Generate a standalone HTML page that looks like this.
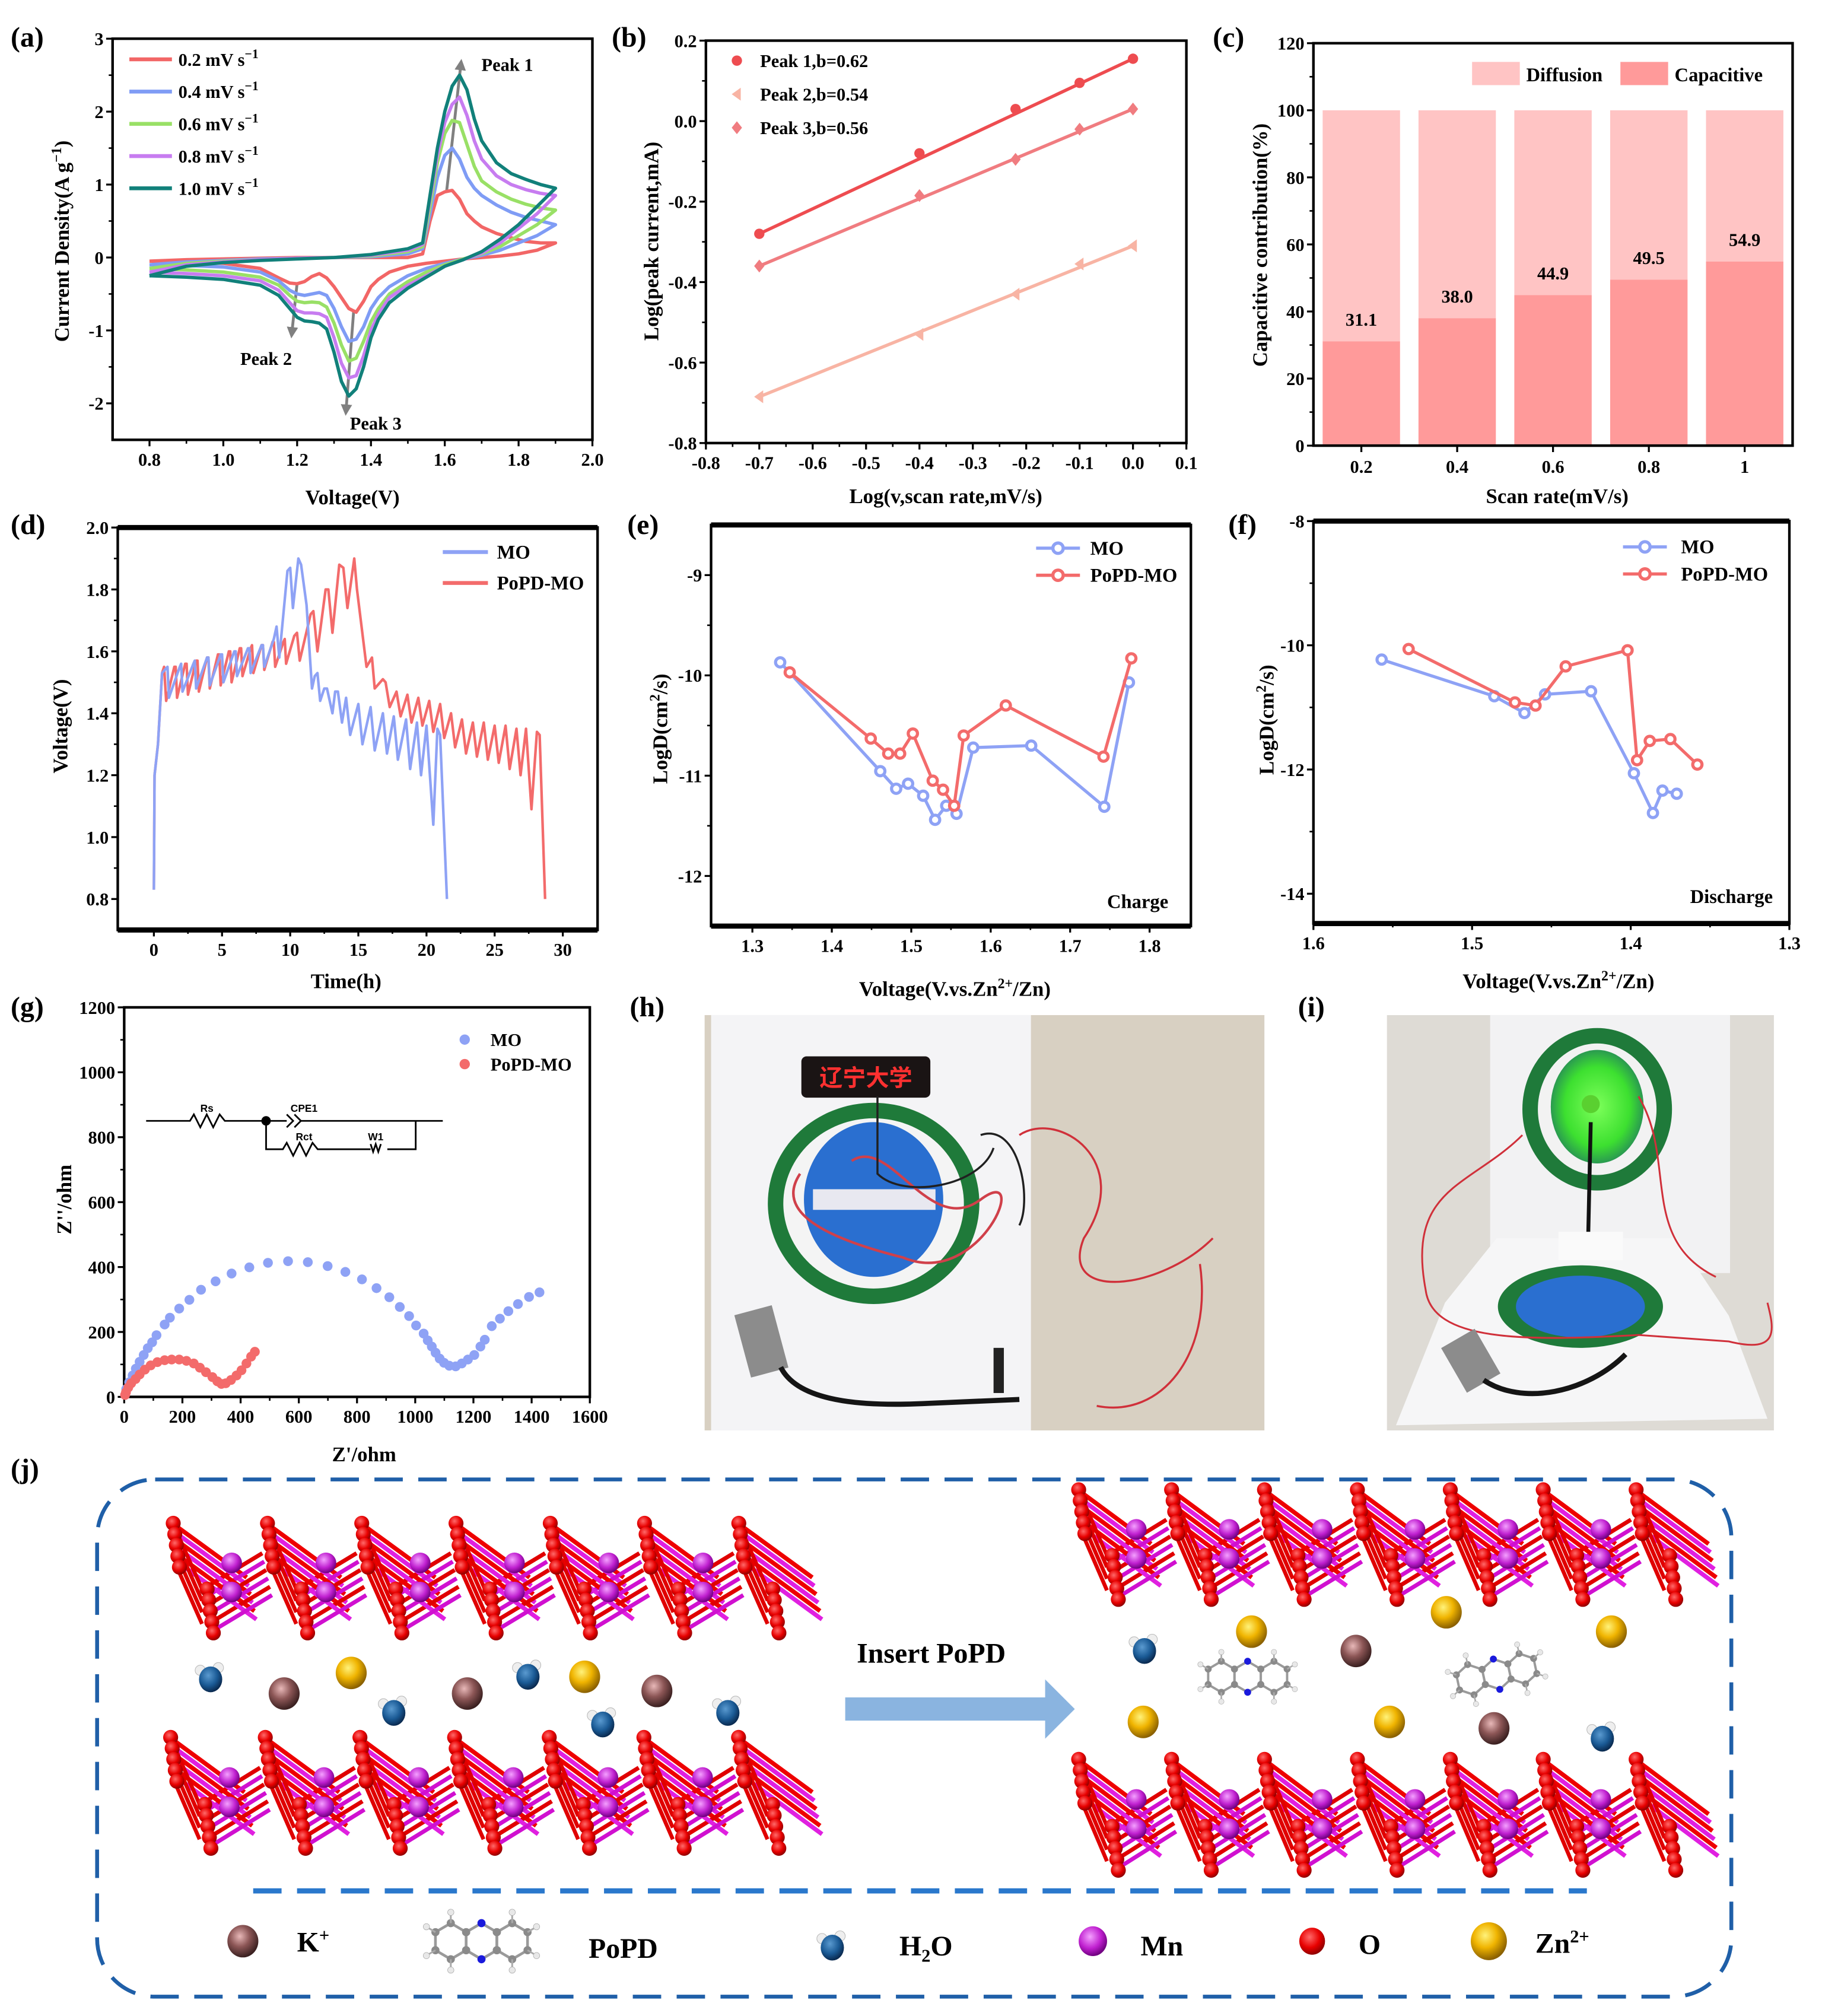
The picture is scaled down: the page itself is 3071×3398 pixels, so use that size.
<!DOCTYPE html>
<html><head><meta charset="utf-8">
<style>
html,body{margin:0;padding:0;background:#fff;}
svg{display:block;}
text{font-family:"Liberation Serif","Noto Serif CJK SC",serif;font-weight:bold;fill:#000;}
</style></head>
<body>
<svg id="fig" xmlns="http://www.w3.org/2000/svg" width="3071" height="3398" viewBox="0 0 1412 1563">
<defs>
<radialGradient id="gK" cx="40%" cy="35%" r="65%"><stop offset="0" stop-color="#e8b8b8"/><stop offset="0.5" stop-color="#8c5656"/><stop offset="1" stop-color="#3a2020"/></radialGradient>
<radialGradient id="gZn" cx="40%" cy="35%" r="65%"><stop offset="0" stop-color="#fff27a"/><stop offset="0.5" stop-color="#f0b400"/><stop offset="1" stop-color="#8a6000"/></radialGradient>
<radialGradient id="gO" cx="40%" cy="35%" r="65%"><stop offset="0" stop-color="#ff6a6a"/><stop offset="0.6" stop-color="#e80000"/><stop offset="1" stop-color="#900000"/></radialGradient>
<radialGradient id="gMn" cx="40%" cy="35%" r="65%"><stop offset="0" stop-color="#f4a0ff"/><stop offset="0.6" stop-color="#c020d0"/><stop offset="1" stop-color="#700080"/></radialGradient>
<radialGradient id="gW" cx="40%" cy="35%" r="65%"><stop offset="0" stop-color="#5a9ad0"/><stop offset="0.6" stop-color="#1a5a95"/><stop offset="1" stop-color="#0a2a50"/></radialGradient>
<radialGradient id="gGlow" cx="50%" cy="50%" r="50%"><stop offset="0" stop-color="#7dff5a"/><stop offset="0.7" stop-color="#3de030"/><stop offset="1" stop-color="#2a9a50"/></radialGradient>
<marker id="arr" viewBox="0 0 10 10" refX="5" refY="5" markerWidth="4" markerHeight="5" orient="auto"><path d="M0,0 L10,5 L0,10 z" fill="#808080"/></marker>
</defs>

<g font-size="22">
<text x="8" y="36">(a)</text>
<text x="474" y="36">(b)</text>
<text x="940" y="36">(c)</text>
<text x="8" y="414">(d)</text>
<text x="486" y="414">(e)</text>
<text x="952" y="414">(f)</text>
<text x="8" y="788">(g)</text>
<text x="488" y="788">(h)</text>
<text x="1006" y="788">(i)</text>
<text x="8" y="1146">(j)</text>
</g>

<g font-size="16" text-anchor="middle">
<text x="273" y="391">Voltage(V)</text>
<text transform="translate(53,187) rotate(-90)">Current Density(A g<tspan dy="-6" font-size="11">−1</tspan><tspan dy="6">)</tspan></text>
<text x="733" y="390">Log(v,scan rate,mV/s)</text>
<text transform="translate(510,187) rotate(-90)">Log(peak current,mA)</text>
<text x="1207" y="390">Scan rate(mV/s)</text>
<text transform="translate(982,190) rotate(-90)">Capacitive contribution(%)</text>
<text x="268" y="766">Time(h)</text>
<text transform="translate(52,563) rotate(-90)">Voltage(V)</text>
<text x="740" y="772">Voltage(V.vs.Zn<tspan dy="-6" font-size="11">2+</tspan><tspan dy="6">/Zn)</tspan></text>
<text transform="translate(517,565) rotate(-90)">LogD(cm<tspan dy="-6" font-size="11">2</tspan><tspan dy="6">/s)</tspan></text>
<text x="1208" y="766">Voltage(V.vs.Zn<tspan dy="-6" font-size="11">2+</tspan><tspan dy="6">/Zn)</tspan></text>
<text transform="translate(987,558) rotate(-90)">LogD(cm<tspan dy="-6" font-size="11">2</tspan><tspan dy="6">/s)</tspan></text>
<text x="282" y="1133">Z'/ohm</text>
<text transform="translate(55,930) rotate(-90)">Z''/ohm</text>
</g>

<g font-size="14">
<g>
<line x1="100" y1="46" x2="133" y2="46" stroke="#f26666" stroke-width="3"/><text x="138" y="51">0.2 mV s<tspan dy="-6" font-size="10">−1</tspan></text>
<line x1="100" y1="71" x2="133" y2="71" stroke="#7f9cf5" stroke-width="3"/><text x="138" y="76">0.4 mV s<tspan dy="-6" font-size="10">−1</tspan></text>
<line x1="100" y1="96" x2="133" y2="96" stroke="#99e066" stroke-width="3"/><text x="138" y="101">0.6 mV s<tspan dy="-6" font-size="10">−1</tspan></text>
<line x1="100" y1="121" x2="133" y2="121" stroke="#c77cf0" stroke-width="3"/><text x="138" y="126">0.8 mV s<tspan dy="-6" font-size="10">−1</tspan></text>
<line x1="100" y1="146" x2="133" y2="146" stroke="#11807a" stroke-width="3"/><text x="138" y="151">1.0 mV s<tspan dy="-6" font-size="10">−1</tspan></text>
</g>
<text x="373" y="55">Peak 1</text>
<text x="186" y="283">Peak 2</text>
<text x="271" y="333">Peak 3</text>
</g>
<g stroke="#808080" stroke-width="2.2" fill="none">
<line x1="346" y1="148" x2="357" y2="50" marker-end="url(#arr)"/>
<line x1="230" y1="220" x2="226" y2="258" marker-end="url(#arr)"/>
<line x1="274" y1="240" x2="268" y2="318" marker-end="url(#arr)"/>
</g>

<g font-size="15">
<rect x="1141" y="48" width="37" height="18" fill="#ffc4c4"/><text x="1183" y="63">Diffusion</text>
<rect x="1256" y="48" width="37" height="18" fill="#ff9a9a"/><text x="1298" y="63">Capacitive</text>
</g>

<g font-size="15">
<g>
<line x1="343" y1="428" x2="378" y2="428" stroke="#8ea2f5" stroke-width="3"/><text x="385" y="433">MO</text>
<line x1="343" y1="452" x2="378" y2="452" stroke="#f36b6b" stroke-width="3"/><text x="385" y="457">PoPD-MO</text>
</g>
<g>
<line x1="803" y1="425" x2="837" y2="425" stroke="#8ea2f5" stroke-width="2.5"/><circle cx="820" cy="425" r="4" fill="#fff" stroke="#8ea2f5" stroke-width="2.5"/><text x="845" y="430">MO</text>
<line x1="803" y1="446" x2="837" y2="446" stroke="#f36b6b" stroke-width="2.5"/><circle cx="820" cy="446" r="4" fill="#fff" stroke="#f36b6b" stroke-width="2.5"/><text x="845" y="451">PoPD-MO</text>
</g>
<g>
<line x1="1258" y1="424" x2="1292" y2="424" stroke="#8ea2f5" stroke-width="2.5"/><circle cx="1275" cy="424" r="4" fill="#fff" stroke="#8ea2f5" stroke-width="2.5"/><text x="1303" y="429">MO</text>
<line x1="1258" y1="445" x2="1292" y2="445" stroke="#f36b6b" stroke-width="2.5"/><circle cx="1275" cy="445" r="4" fill="#fff" stroke="#f36b6b" stroke-width="2.5"/><text x="1303" y="450">PoPD-MO</text>
</g>
<text x="858" y="704">Charge</text>
<text x="1310" y="700">Discharge</text>
<g font-size="14">
<circle cx="360" cy="806" r="4" fill="#8ea2f5"/><text x="380" y="811">MO</text>
<circle cx="360" cy="825" r="4" fill="#f36b6b"/><text x="380" y="830">PoPD-MO</text>
</g>
</g>

<g stroke="#000" stroke-width="1.3" fill="none">
<path d="M113,869 H147 l3,-5 l5,10 l5,-10 l5,10 l5,-10 l4,5 H222"/>
<path d="M222,864 l5,5 l-5,5 M228,864 l5,5 l-5,5"/>
<path d="M233,869 H343"/>
<path d="M206,869 V891 H219 l3,-5 l5,10 l5,-10 l5,10 l5,-10 l4,5 H287 M322,869 V891 H300"/>
<path d="M287,887 l2,6 l2,-6 l2,6 l2,-6" />
<circle cx="206" cy="869" r="3" fill="#000"/>
</g>
<g font-size="8">
<text x="155" y="862" style="font-family:'Liberation Sans',sans-serif">Rs</text>
<text x="225" y="862" style="font-family:'Liberation Sans',sans-serif">CPE1</text>
<text x="229" y="884" style="font-family:'Liberation Sans',sans-serif">Rct</text>
<text x="285" y="884" style="font-family:'Liberation Sans',sans-serif">W1</text>
</g>

<g>
<rect x="546" y="787" width="434" height="322" fill="#d8d0c2"/>
<rect x="551" y="787" width="248" height="322" fill="#f4f4f6"/>
<rect x="621" y="819" width="100" height="32" rx="4" fill="#1a1414"/>
<text x="671" y="842" text-anchor="middle" font-size="18" style="fill:#ff3030;font-family:'Liberation Sans','Noto Sans CJK SC',sans-serif">辽宁大学</text>
<ellipse cx="677" cy="933" rx="82" ry="78" fill="#1f7a3a"/>
<ellipse cx="677" cy="933" rx="70" ry="66" fill="#f4f4f4"/>
<ellipse cx="677" cy="930" rx="54" ry="60" fill="#2a6fd0"/>
<rect x="630" y="922" width="95" height="16" fill="#e8e8f0"/>
<path d="M660,900 C690,880 720,960 760,930 C800,900 760,1000 700,975 C640,960 600,940 620,910" fill="none" stroke="#d0404a" stroke-width="2"/>
<path d="M790,880 C820,860 880,900 840,960 C820,1010 900,1000 940,960 M850,1090 C900,1100 940,1050 930,980" fill="none" stroke="#d0303a" stroke-width="1.6"/>
<path d="M680,850 V910 C700,930 760,920 770,890 M760,880 C790,870 800,930 790,950" fill="none" stroke="#202020" stroke-width="1.6"/>
<rect x="575" y="1015" width="30" height="50" fill="#8c8c8c" transform="rotate(-15 590 1040)"/>
<path d="M605,1060 C620,1090 680,1090 720,1088 L790,1085" fill="none" stroke="#151515" stroke-width="4"/>
<rect x="770" y="1045" width="8" height="35" fill="#222"/>
</g>

<g>
<rect x="1075" y="787" width="300" height="322" fill="#dedbd5"/>
<rect x="1155" y="787" width="186" height="200" fill="#f2f2f3"/>
<path d="M1160,960 L1300,960 L1340,1020 L1370,1100 L1082,1105 L1120,1010 z" fill="#f6f6f7"/>
<ellipse cx="1238" cy="860" rx="58" ry="63" fill="#1f7a3a"/>
<ellipse cx="1238" cy="860" rx="46" ry="51" fill="#f2f2f2"/>
<ellipse cx="1238" cy="858" rx="36" ry="44" fill="url(#gGlow)"/>
<circle cx="1233" cy="856" r="7" fill="#5ad030"/>
<line x1="1233" y1="870" x2="1231" y2="960" stroke="#111" stroke-width="3"/>
<rect x="1208" y="955" width="50" height="22" fill="#fafafa"/>
<ellipse cx="1225" cy="1013" rx="64" ry="32" fill="#1f7a3a"/>
<ellipse cx="1225" cy="1013" rx="50" ry="24" fill="#2a6fd0"/>
<path d="M1180,880 C1140,920 1090,920 1105,1000 C1110,1040 1180,1040 1270,1035 L1340,1040 C1380,1050 1375,1030 1370,1010 M1270,850 C1300,900 1270,960 1330,990" fill="none" stroke="#d0303a" stroke-width="1.4"/>
<rect x="1125" y="1035" width="30" height="40" fill="#8c8c8c" transform="rotate(-30 1140 1055)"/>
<path d="M1150,1070 C1180,1090 1230,1080 1260,1050" fill="none" stroke="#151515" stroke-width="4"/>
</g>

<g>
<rect x="75" y="1147" width="1267" height="401" rx="45" fill="none" stroke="#1f5fa8" stroke-width="3" stroke-dasharray="22 12"/>
<line x1="196" y1="1466" x2="1230" y2="1466" stroke="#2a78cc" stroke-width="4" stroke-dasharray="22 12"/>
<text x="664" y="1289" font-size="22">Insert PoPD</text>
<path d="M655,1316 H810 V1302 L833,1325 L810,1348 V1334 H655 z" fill="#8ab4e0"/>
<g font-size="22">
<text x="230" y="1513">K<tspan dy="-8" font-size="14">+</tspan></text>
<text x="456" y="1518">PoPD</text>
<text x="697" y="1516">H<tspan dy="5" font-size="14">2</tspan><tspan dy="-5">O</tspan></text>
<text x="884" y="1516">Mn</text>
<text x="1053" y="1515">O</text>
<text x="1190" y="1514">Zn<tspan dy="-8" font-size="14">2+</tspan></text>
</g>
</g>
<g id="marks"></g>
</svg>

<script>
const NS='http://www.w3.org/2000/svg';
const root=document.getElementById('marks');
function mk(tag,attrs,parent){const e=document.createElementNS(NS,tag);for(const k in attrs)e.setAttribute(k,attrs[k]);(parent||root).appendChild(e);return e;}

const cvFwdV=[0.8,0.9,1.0,1.1,1.2,1.3,1.4,1.5,1.54,1.56,1.58,1.6,1.62,1.64,1.66,1.68,1.7,1.74,1.78,1.82,1.86,1.9];
const cvBwdV=[1.9,1.85,1.8,1.75,1.7,1.65,1.6,1.55,1.5,1.45,1.42,1.4,1.38,1.36,1.34,1.32,1.3,1.28,1.26,1.24,1.22,1.2,1.18,1.15,1.1,1.0,0.9,0.8];
const cvRates=['0.2','0.4','0.6','0.8','1.0'];
const cvFwd02=[-0.05,-0.03,-0.02,-0.01,0,0,0,0,0.05,0.5,0.85,0.9,0.92,0.8,0.6,0.5,0.42,0.33,0.27,0.22,0.2,0.2];
const cvFwd04=[-0.1,-0.06,-0.04,-0.02,-0.01,0,0.01,0.05,0.12,0.6,1.1,1.4,1.5,1.35,1.1,0.95,0.85,0.72,0.62,0.55,0.5,0.45];
const cvFwd06=[-0.15,-0.08,-0.05,-0.03,-0.01,0,0.02,0.08,0.15,0.7,1.3,1.7,1.88,1.85,1.55,1.25,1.05,0.9,0.8,0.73,0.68,0.65];
const cvFwd08=[-0.2,-0.1,-0.06,-0.03,-0.01,0,0.03,0.1,0.18,0.8,1.4,1.85,2.1,2.2,1.95,1.6,1.35,1.12,1.0,0.93,0.88,0.85];
const cvFwd10=[-0.25,-0.12,-0.07,-0.04,-0.02,0,0.04,0.12,0.2,0.85,1.5,2.0,2.35,2.5,2.3,1.9,1.6,1.3,1.15,1.07,1.0,0.95];
const cvBwd02=[0.2,0.1,0.05,0.02,0,-0.02,-0.05,-0.08,-0.12,-0.2,-0.3,-0.4,-0.6,-0.75,-0.7,-0.55,-0.4,-0.28,-0.22,-0.26,-0.33,-0.36,-0.35,-0.28,-0.15,-0.08,-0.06,-0.05];
const cvBwd04=[0.45,0.3,0.2,0.1,0.03,-0.02,-0.08,-0.15,-0.25,-0.4,-0.55,-0.7,-0.95,-1.12,-1.15,-0.95,-0.7,-0.52,-0.48,-0.5,-0.52,-0.5,-0.45,-0.32,-0.2,-0.13,-0.11,-0.1];
const cvBwd06=[0.65,0.45,0.3,0.15,0.05,-0.02,-0.1,-0.2,-0.33,-0.5,-0.7,-0.88,-1.15,-1.38,-1.42,-1.2,-0.9,-0.68,-0.62,-0.61,-0.62,-0.6,-0.52,-0.38,-0.27,-0.2,-0.17,-0.15];
const cvBwd08=[0.85,0.6,0.4,0.2,0.06,-0.03,-0.12,-0.25,-0.38,-0.55,-0.78,-1.0,-1.35,-1.62,-1.65,-1.45,-1.1,-0.82,-0.77,-0.76,-0.76,-0.73,-0.62,-0.45,-0.32,-0.25,-0.22,-0.2];
const cvBwd10=[0.95,0.7,0.45,0.25,0.08,-0.03,-0.12,-0.27,-0.42,-0.62,-0.85,-1.1,-1.5,-1.8,-1.9,-1.7,-1.3,-0.98,-0.9,-0.88,-0.87,-0.82,-0.7,-0.52,-0.38,-0.3,-0.27,-0.25];
const logV=[-0.7,-0.4,-0.22,-0.1,0.0];
const peak1=[-0.28,-0.08,0.03,0.095,0.155];
const peak2=[-0.685,-0.53,-0.43,-0.355,-0.31];
const peak3=[-0.36,-0.185,-0.095,-0.02,0.03];
const scanRates=['0.2','0.4','0.6','0.8','1'];
const capacitive=[31.1,38.0,44.9,49.5,54.9];
const moGcd=[[0,0.83],[0.05,1.2],[0.3,1.3],[0.6,1.53],[0.8,1.54],[1.0,1.55],[1.1,1.45],[1.9,1.55],[2.0,1.56],[2.1,1.47],[2.9,1.56],[3.0,1.57],[3.1,1.48],[3.9,1.58],[4.0,1.58],[4.1,1.49],[4.9,1.59],[5.0,1.59],[5.1,1.50],[5.9,1.60],[6.0,1.60],[6.1,1.52],[6.9,1.61],[7.0,1.61],[7.1,1.53],[7.9,1.62],[8.0,1.62],[8.1,1.55],[8.8,1.64],[9.0,1.68],[9.2,1.58],[9.8,1.86],[10.0,1.87],[10.2,1.74],[10.6,1.90],[10.8,1.88],[11.2,1.75],[11.6,1.48],[11.8,1.52],[12.0,1.53],[12.2,1.44],[12.5,1.48],[12.7,1.48],[13.1,1.40],[13.3,1.47],[13.5,1.47],[13.8,1.37],[14.1,1.45],[14.4,1.33],[15.0,1.43],[15.3,1.30],[15.9,1.42],[16.2,1.28],[16.8,1.40],[17.1,1.27],[17.6,1.39],[17.9,1.25],[18.5,1.38],[18.8,1.22],[19.3,1.37],[19.6,1.20],[20.0,1.36],[20.5,1.04],[20.8,1.35],[21.0,1.33],[21.5,0.80]];
const popdGcd=[[0,0.83],[0.05,1.2],[0.3,1.3],[0.6,1.53],[0.75,1.55],[0.9,1.44],[1.5,1.55],[1.6,1.55],[1.7,1.45],[2.3,1.56],[2.4,1.56],[2.5,1.46],[3.1,1.57],[3.2,1.57],[3.3,1.47],[3.9,1.58],[4.0,1.58],[4.1,1.48],[4.7,1.59],[4.8,1.59],[4.9,1.49],[5.5,1.60],[5.6,1.60],[5.7,1.50],[6.3,1.61],[6.4,1.61],[6.5,1.52],[7.1,1.61],[7.2,1.62],[7.3,1.53],[7.9,1.62],[8.0,1.62],[8.1,1.54],[8.7,1.63],[8.8,1.63],[8.9,1.55],[9.5,1.63],[9.6,1.64],[9.7,1.56],[10.3,1.65],[10.5,1.66],[10.7,1.57],[11.5,1.72],[11.7,1.73],[12.0,1.60],[12.6,1.80],[12.8,1.80],[13.1,1.66],[13.6,1.88],[13.9,1.87],[14.2,1.74],[14.7,1.90],[14.9,1.80],[15.6,1.55],[16.0,1.58],[16.2,1.48],[16.8,1.51],[17.0,1.50],[17.3,1.42],[17.8,1.47],[18.1,1.39],[18.6,1.46],[18.9,1.37],[19.4,1.45],[19.7,1.36],[20.2,1.44],[20.5,1.34],[21.0,1.43],[21.3,1.32],[21.8,1.40],[22.1,1.29],[22.6,1.38],[22.9,1.27],[23.4,1.37],[23.7,1.26],[24.2,1.37],[24.5,1.25],[25.0,1.36],[25.3,1.24],[25.8,1.36],[26.1,1.22],[26.6,1.35],[26.9,1.20],[27.3,1.35],[27.7,1.09],[28.1,1.34],[28.3,1.33],[28.7,0.80]];
const moCharge=[[1.335,-9.87],[1.461,-10.955],[1.481,-11.13],[1.496,-11.08],[1.515,-11.2],[1.53,-11.44],[1.544,-11.3],[1.557,-11.38],[1.578,-10.72],[1.651,-10.70],[1.743,-11.31],[1.774,-10.07]];
const popdCharge=[[1.347,-9.97],[1.449,-10.63],[1.471,-10.78],[1.486,-10.78],[1.502,-10.58],[1.527,-11.05],[1.54,-11.14],[1.554,-11.3],[1.566,-10.6],[1.619,-10.3],[1.742,-10.81],[1.777,-9.83]];
const moDischarge=[[1.557,-10.23],[1.486,-10.82],[1.467,-11.09],[1.454,-10.79],[1.425,-10.74],[1.398,-12.06],[1.386,-12.70],[1.380,-12.34],[1.371,-12.39]];
const popdDischarge=[[1.540,-10.06],[1.473,-10.92],[1.460,-10.97],[1.441,-10.34],[1.402,-10.08],[1.396,-11.85],[1.388,-11.54],[1.375,-11.51],[1.358,-11.92]];
const moEis=[[7,24],[17,45],[29,66],[40,87],[53,108],[67,129],[81,150],[96,168],[111,190],[139,223],[157,244],[189,272],[224,299],[264,330],[314,356],[369,380],[430,399],[494,413],[563,418],[631,415],[699,403],[760,385],[817,362],[867,335],[911,307],[947,277],[979,249],[1003,220],[1029,195],[1043,174],[1057,155],[1070,136],[1084,118],[1099,105],[1117,96],[1139,94],[1160,103],[1181,115],[1203,129],[1224,155],[1239,176],[1263,218],[1291,241],[1320,264],[1353,286],[1391,308],[1427,322]];
const popdEis=[[3,6],[6,14],[14,29],[24,42],[39,55],[53,69],[71,84],[91,97],[114,107],[139,113],[163,115],[189,115],[214,111],[239,103],[260,90],[281,76],[303,61],[320,48],[334,40],[349,42],[367,52],[386,66],[403,82],[420,103],[436,124],[449,139]];
const aXTicks=[0.8,1.0,1.2,1.4,1.6,1.8,2.0], aYTicks=[-2,-1,0,1,2,3];
const bXTicks=[-0.8,-0.7,-0.6,-0.5,-0.4,-0.3,-0.2,-0.1,0.0,0.1], bYTicks=[-0.8,-0.6,-0.4,-0.2,0.0,0.2];
const cYTicks=[0,20,40,60,80,100,120];
const dXTicks=[0,5,10,15,20,25,30], dYTicks=[0.8,1.0,1.2,1.4,1.6,1.8,2.0];
const eXTicks=[1.3,1.4,1.5,1.6,1.7,1.8], eYTicks=[-12,-11,-10,-9];
const fXTicks=[1.6,1.5,1.4,1.3], fYTicks=[-14,-12,-10,-8];
const gXTicks=[0,200,400,600,800,1000,1200,1400,1600], gYTicks=[0,200,400,600,800,1000,1200];

function mkAxis(L,T,R,B,x0,x1,y0,y1){return {L,T,R,B,sx:v=>L+(v-x0)/(x1-x0)*(R-L),sy:v=>B-(v-y0)/(y1-y0)*(B-T)};}
function frame(ax,name,tb){
  const g=mk('g',{});
  
  
  mk('rect',{x:ax.L,y:ax.T,width:ax.R-ax.L,height:ax.B-ax.T,fill:'none',stroke:'#000','stroke-width':2},g);
  if(tb){mk('line',{x1:ax.L,y1:ax.T,x2:ax.R,y2:ax.T,stroke:'#000','stroke-width':4},g);mk('line',{x1:ax.L,y1:ax.B,x2:ax.R,y2:ax.B,stroke:'#000','stroke-width':4},g);}
  return g;
}
function xTicks(ax,vals,fmt,name,minor){
  const g=mk('g',{'font-size':14,'text-anchor':'middle'});
  
  
  vals.forEach((v,i)=>{const x=ax.sx(v);mk('line',{x1:x,y1:ax.B,x2:x,y2:ax.B+5,stroke:'#000','stroke-width':1.5},g);
    const t=mk('text',{x:x,y:ax.B+20},g);t.textContent=fmt(v);
    if(minor&&i<vals.length-1){const xm=ax.sx((v+vals[i+1])/2);mk('line',{x1:xm,y1:ax.B,x2:xm,y2:ax.B+3,stroke:'#000','stroke-width':1.2},g);}});
}
function yTicks(ax,vals,fmt,name,minor){
  const g=mk('g',{'font-size':14,'text-anchor':'end'});
  
  
  vals.forEach((v,i)=>{const y=ax.sy(v);mk('line',{x1:ax.L-5,y1:y,x2:ax.L,y2:y,stroke:'#000','stroke-width':1.5},g);
    const t=mk('text',{x:ax.L-7,y:y+5},g);t.textContent=fmt(v);
    if(minor&&i<vals.length-1){const ym=ax.sy((v+vals[i+1])/2);mk('line',{x1:ax.L-3,y1:ym,x2:ax.L,y2:ym,stroke:'#000','stroke-width':1.2},g);}});
}
function poly(ax,pts,color,w,name,parent){
  const e=mk('polyline',{points:pts.map(p=>ax.sx(p[0]).toFixed(2)+','+ax.sy(p[1]).toFixed(2)).join(' '),fill:'none',stroke:color,'stroke-width':w,'stroke-linejoin':'round'},parent);
  
  
  return e;
}

const axA=mkAxis(87,30,459,341,0.7,2.0,-2.5,3);
frame(axA,'a-frame');
xTicks(axA,aXTicks,v=>v.toFixed(1),'a-x-ticks',true);
yTicks(axA,aYTicks,v=>String(v),'a-y-ticks',true);
const cvColors=['#f26666','#7f9cf5','#99e066','#c77cf0','#11807a'];
const cvF=[cvFwd02,cvFwd04,cvFwd06,cvFwd08,cvFwd10], cvB=[cvBwd02,cvBwd04,cvBwd06,cvBwd08,cvBwd10];
cvRates.forEach((r,k)=>{
  const pts=cvFwdV.map((v,i)=>[v,cvF[k][i]]).concat(cvBwdV.map((v,i)=>[v,cvB[k][i]]));
  poly(axA,pts,cvColors[k],2.6,'cv-curve-'+r.replace('.','-'));
});

const axB=mkAxis(547,31.5,919.5,343.5,-0.8,0.1,-0.8,0.2);
frame(axB,'b-frame');
xTicks(axB,bXTicks,v=>v.toFixed(1),'b-x-ticks',true);
yTicks(axB,bYTicks,v=>v.toFixed(1),'b-y-ticks',true);
const bSeries=[[peak1,'#ee4c50','circle','peak-1'],[peak2,'#f8b4a4','tri','peak-2'],[peak3,'#f07c80','diamond','peak-3']];
bSeries.forEach(([ys,c,shape,nm])=>{
  const fit=[[logV[0],ys[0]],[logV[logV.length-1],ys[ys.length-1]]];
  poly(axB,fit,c,2.5,nm+'-fit-line');
  logV.forEach((x,i)=>{
    const px=axB.sx(x),py=axB.sy(ys[i]);let e;
    if(shape==='circle')e=mk('circle',{cx:px,cy:py,r:4,fill:c});
    else if(shape==='tri')e=mk('path',{d:`M${px-4},${py} L${px+3},${py-5} L${px+3},${py+5} z`,fill:c});
    else e=mk('path',{d:`M${px},${py-5} L${px+4},${py} L${px},${py+5} L${px-4},${py} z`,fill:c});
    
    
  });
});
[['#ee4c50','circle',47],['#f8b4a4','tri',73],['#f07c80','diamond',99]].forEach(([c,s,y],i)=>{
  let e;const px=571;
  if(s==='circle')e=mk('circle',{cx:px,cy:y,r:4,fill:c});
  else if(s==='tri')e=mk('path',{d:`M${px-4},${y} L${px+3},${y-5} L${px+3},${y+5} z`,fill:c});
  else e=mk('path',{d:`M${px},${y-5} L${px+4},${y} L${px},${y+5} L${px-4},${y} z`,fill:c});
  
  
  const t=mk('text',{x:589,y:y+5,'font-size':14});
  
  
  t.textContent=['Peak 1,b=0.62','Peak 2,b=0.54','Peak 3,b=0.56'][i];
});

const axC=mkAxis(1018,33.5,1389.5,345.5,0,5,0,120);
const band=(axC.R-axC.L)/scanRates.length;
scanRates.forEach((r,i)=>{
  const cx=axC.L+(i+0.5)*band,w=60;
  const d=mk('rect',{x:cx-w/2,y:axC.sy(100),width:w,height:axC.sy(capacitive[i])-axC.sy(100),fill:'#ffc4c4'});
  
  
  const c=mk('rect',{x:cx-w/2,y:axC.sy(capacitive[i]),width:w,height:axC.sy(0)-axC.sy(capacitive[i]),fill:'#ff9a9a'});
  
  
  const t=mk('text',{x:cx,y:axC.sy(capacitive[i])-12,'font-size':14,'text-anchor':'middle'});
  
  
  t.textContent=capacitive[i].toFixed(1);
  mk('line',{x1:cx,y1:axC.B,x2:cx,y2:axC.B+5,stroke:'#000','stroke-width':1.5});
  const xl=mk('text',{x:cx,y:axC.B+21,'font-size':14,'text-anchor':'middle'});
  
  
  xl.textContent=r;
});
frame(axC,'c-frame');
yTicks(axC,cYTicks,v=>String(v),'c-y-ticks',true);

const axD=mkAxis(91,409,463,721,-2.65,32.55,0.7,2.0);
frame(axD,'d-frame',true);
xTicks(axD,dXTicks,v=>String(v),'d-x-ticks',true);
yTicks(axD,dYTicks,v=>v.toFixed(1),'d-y-ticks',true);
poly(axD,popdGcd,'#f36b6b',2,'popd-mo-gcd-curve');
poly(axD,moGcd,'#8ea2f5',2,'mo-gcd-curve');

const axE=mkAxis(551,407,923,718,1.248,1.852,-12.5,-8.5);
frame(axE,'e-frame',true);
xTicks(axE,eXTicks,v=>v.toFixed(1),'e-x-ticks',true);
yTicks(axE,eYTicks,v=>String(v),'e-y-ticks',true);
function lineMarkers(ax,pts,c,nm){
  poly(ax,pts,c,2.4,nm+'-line');
  pts.forEach(p=>{const e=mk('circle',{cx:ax.sx(p[0]),cy:ax.sy(p[1]),r:3.6,fill:'#fff',stroke:c,'stroke-width':2.4});
    
    });
}
lineMarkers(axE,moCharge,'#8ea2f5','mo-charge');
lineMarkers(axE,popdCharge,'#f36b6b','popd-mo-charge');

const axF=mkAxis(1018,404,1387,716,1.6,1.3,-14.48,-8);
frame(axF,'f-frame',true);
xTicks(axF,fXTicks,v=>v.toFixed(1),'f-x-ticks',true);
yTicks(axF,fYTicks,v=>String(v),'f-y-ticks',true);
lineMarkers(axF,moDischarge,'#8ea2f5','mo-discharge');
lineMarkers(axF,popdDischarge,'#f36b6b','popd-mo-discharge');

const axG=mkAxis(96,781,457,1083,0,1600,0,1200);
frame(axG,'g-frame');
xTicks(axG,gXTicks,v=>String(v),'g-x-ticks',true);
yTicks(axG,gYTicks,v=>String(v),'g-y-ticks',true);
moEis.forEach(p=>{const e=mk('circle',{cx:axG.sx(p[0]),cy:axG.sy(p[1]),r:3.8,fill:'#8ea2f5'});
  
  });
popdEis.forEach(p=>{const e=mk('circle',{cx:axG.sx(p[0]),cy:axG.sy(p[1]),r:3.8,fill:'#f36b6b'});
  
  });

/* (j) lattice layers */
function layer(x0,x1,yT,yB,nm){
  const g=mk('g',{});
  
  
  const p=(x1-x0)/6.65,h=yB-yT;
  for(let k=0;k<7;k++){
    const T=x0+k*p, Bx=T+0.36*p;
    for(let j=0;j<6;j++){
      mk('line',{x1:T+2+j*1.5,y1:yT+7+j*6.5,x2:T+0.78*p+j*1.5,y2:yT+0.5*h+j*6.5,stroke:j%2?'#e020e0':'#ee0000','stroke-width':3.4},g);
      if(k<6)mk('line',{x1:Bx+j*1.5,y1:yB-40+j*6.5,x2:T+p-4+j*1.5,y2:yT+0.3*h+j*6.5,stroke:j%2?'#d010d0':'#e00000','stroke-width':3.2},g);
    }
    for(let j=0;j<4;j++){
      mk('line',{x1:T+2,y1:yT+10+j*9,x2:Bx-4,y2:yB-38+j*9,stroke:'#e00000','stroke-width':3},g);
    }
    for(let i=0;i<5;i++){mk('circle',{cx:T+i*1.2,cy:yT+5+i*8.5,r:5.8,fill:'url(#gO)'},g);}
    for(let i=0;i<5;i++){mk('circle',{cx:Bx+i*1.2,cy:yB-38+i*8.5,r:5.8,fill:'url(#gO)'},g);}
    if(k<6){mk('circle',{cx:T+0.62*p,cy:yT+0.38*h,r:8,fill:'url(#gMn)'},g);mk('circle',{cx:T+0.62*p,cy:yT+0.62*h,r:8,fill:'url(#gMn)'},g);}
  }
}
layer(134,620,1176,1270,'mno2-layer-left-top');
layer(132,620,1342,1437,'mno2-layer-left-bottom');
layer(836,1315,1150,1244,'mno2-layer-right-top');
layer(836,1315,1359,1454,'mno2-layer-right-bottom');

function sphere(x,y,r,fill,nm){const e=mk('ellipse',{cx:x,cy:y,rx:r,ry:r*1.05,fill:fill});
  
  }
function water(x,y,nm){const g=mk('g',{});
  
  
  mk('circle',{cx:x-8,cy:y-7,r:4,fill:'#eee',stroke:'#bbb','stroke-width':0.5},g);
  mk('circle',{cx:x+6,cy:y-9,r:4,fill:'#eee',stroke:'#bbb','stroke-width':0.5},g);
  mk('ellipse',{cx:x,cy:y,rx:9,ry:10,fill:'url(#gW)'},g);}
function phenazine(cx,cy,s,rot,nm){
  const g=mk('g',{transform:`translate(${cx},${cy}) rotate(${rot}) scale(${s})`});
  
  
  const hx=(ox)=>[[ox,-20],[ox+17,-10],[ox+17,10],[ox,20],[ox-17,10],[ox-17,-10]];
  [-34,0,34].forEach(ox=>{const v=hx(ox);mk('polygon',{points:v.map(p=>p.join(',')).join(' '),fill:'none',stroke:'#9a9a9a','stroke-width':3},g);
    v.forEach((p,i)=>{if(!(ox===0&&(i===0||i===3)))mk('circle',{cx:p[0],cy:p[1],r:4.5,fill:'#8a8a8a'},g);});});
  mk('circle',{cx:0,cy:-20,r:4.5,fill:'#1a1adc'},g);mk('circle',{cx:0,cy:20,r:4.5,fill:'#1a1adc'},g);
  [[-34,-20,-34,-32],[-51,-10,-61,-16],[-51,10,-61,16],[-34,20,-34,32],[34,-20,34,-32],[51,-10,61,-16],[51,10,61,16],[34,20,34,32]].forEach(l=>{
    mk('line',{x1:l[0],y1:l[1],x2:l[2],y2:l[3],stroke:'#aaa','stroke-width':2},g);mk('circle',{cx:l[2],cy:l[3],r:3.5,fill:'#e8e8e8',stroke:'#aaa','stroke-width':0.5},g);});
}
water(163,1302,'water-1');sphere(220,1313,12,'url(#gK)','k-ion-1');sphere(272,1297,12,'url(#gZn)','zn-ion-1');
water(305,1328,'water-2');sphere(362,1313,12,'url(#gK)','k-ion-2');water(409,1300,'water-3');
sphere(453,1300,12,'url(#gZn)','zn-ion-2');water(467,1337,'water-4');sphere(509,1311,12,'url(#gK)','k-ion-3');water(564,1328,'water-5');
water(887,1280,'water-6');phenazine(967,1300,0.6,0,'popd-molecule-1');sphere(970,1265,12,'url(#gZn)','zn-ion-3');
sphere(1051,1280,12,'url(#gK)','k-ion-4');sphere(1121,1250,12,'url(#gZn)','zn-ion-4');phenazine(1160,1298,0.6,-12,'popd-molecule-2');
sphere(1249,1265,12,'url(#gZn)','zn-ion-5');sphere(886,1335,12,'url(#gZn)','zn-ion-6');sphere(1077,1335,12,'url(#gZn)','zn-ion-7');
sphere(1158,1340,12,'url(#gK)','k-ion-5');water(1242,1348,'water-7');
sphere(188,1505,12,'url(#gK)','legend-k-icon');phenazine(373,1505,0.7,0,'legend-popd-icon');water(645,1510,'legend-h2o-icon');
sphere(847,1505,11,'url(#gMn)','legend-mn-icon');sphere(1017,1505,10,'url(#gO)','legend-o-icon');sphere(1154,1505,14,'url(#gZn)','legend-zn-icon');
</script>
</body></html>
